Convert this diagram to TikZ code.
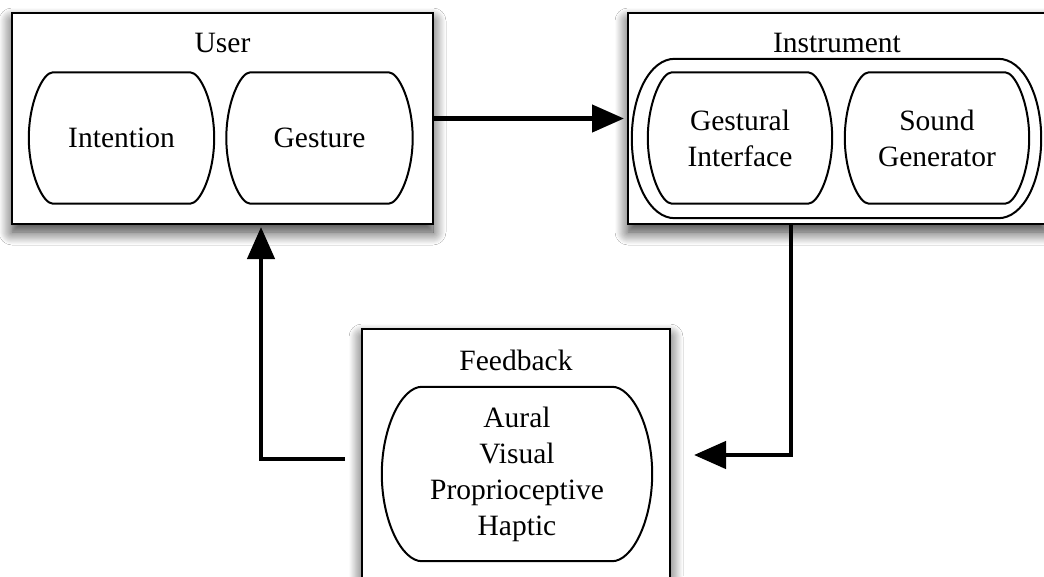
\documentclass[tikz,border=0pt]{standalone}
\usepackage{fontspec}
\setmainfont{Liberation Serif}
\usetikzlibrary{arrows.meta,calc,shadows.blur}

% Pill outline around a node: flat top/bottom, bulging sides.
% #1 node, #2 inset of the flat part, #3 corner handle, #4 side handle
\newcommand\pillshape[4]{%
  \draw[pillline] ($(#1.north west)+(#2,0)$) -- ($(#1.north east)+(-#2,0)$)
    .. controls +(#3,0) and +(0,-#4) .. (#1.east)
    .. controls +(0,#4) and +(#3,0) .. ($(#1.south east)+(-#2,0)$)
    -- ($(#1.south west)+(#2,0)$)
    .. controls +(-#3,0) and +(0,#4) .. (#1.west)
    .. controls +(0,-#4) and +(-#3,0) .. ($(#1.north west)+(#2,0)$) -- cycle;}

\begin{document}
\begin{tikzpicture}[x=1pt,y=-1pt,
  txt/.style={font=\fontsize{29.5}{36}\selectfont, align=center},
  block/.style={draw, line width=2pt, fill=white, inner sep=0pt,
    blur shadow={shadow xshift=0pt, shadow yshift=-8pt,
      shadow blur radius=13pt, shadow blur steps=14, shadow opacity=80}},
  pill/.style={txt, inner sep=0pt},
  pillline/.style={line width=2pt, line join=round},
  arr/.style={line width=4.5pt, -{Triangle[length=32pt,width=27pt]}}]

\fill[white] (0,0) rectangle (1044,576);
\useasboundingbox (0,0) rectangle (1044,576);

% outer blocks
\node[block, minimum width=421pt, minimum height=211pt] (user) at (222.5,118.5) {};
\node[block, minimum width=418pt, minimum height=211pt] (instr) at (837,118.5) {};
\node[block, minimum width=308pt, minimum height=311pt] (fb) at (516,484.5) {};

% block titles
\node[txt, anchor=base] (userlbl) at (222.5,52) {User};
\node[txt, anchor=base] (instrlbl) at (837,52) {Instrument};
\node[txt, anchor=base] (fblbl) at (516,370) {Feedback};

% user parts
\node[pill, minimum width=185pt, minimum height=131pt] (int) at (121.5,138) {Intention};
\node[pill, minimum width=186pt, minimum height=131pt] (ges) at (319.5,138) {Gesture};
\pillshape{int}{24}{10}{35.5}
\pillshape{ges}{24}{10}{35.5}

% instrument parts
\node[pill, minimum width=409pt, minimum height=159pt] (instrgroup) at (836.5,138.5) {};
\node[pill, minimum width=184pt, minimum height=131pt] (gif) at (740,138) {Gestural\\Interface};
\node[pill, minimum width=184pt, minimum height=131pt] (sg) at (937,138) {Sound\\Generator};
\pillshape{instrgroup}{43}{25}{43.5}
\pillshape{gif}{24}{10}{35.5}
\pillshape{sg}{24}{10}{35.5}

% feedback channels
\node[pill, minimum width=270pt, minimum height=174pt] (fbp) at (517,474) {Aural\\Visual\\Proprioceptive\\Haptic};
\pillshape{fbp}{40}{20}{47}

% signal flow
\coordinate (turnR) at (791,455);
\coordinate (turnL) at (261,459);
\draw[arr, shorten >=3pt] (user.east) -- (instr.west);
\draw[arr, shorten >=23pt] (instr.south -| turnR) -- (turnR) -- (fb.east |- turnR);
\draw[arr, shorten <=16pt, shorten >=2pt] (fb.west |- turnL) -- (turnL) -- (user.south -| turnL);
\end{tikzpicture}
\end{document}
